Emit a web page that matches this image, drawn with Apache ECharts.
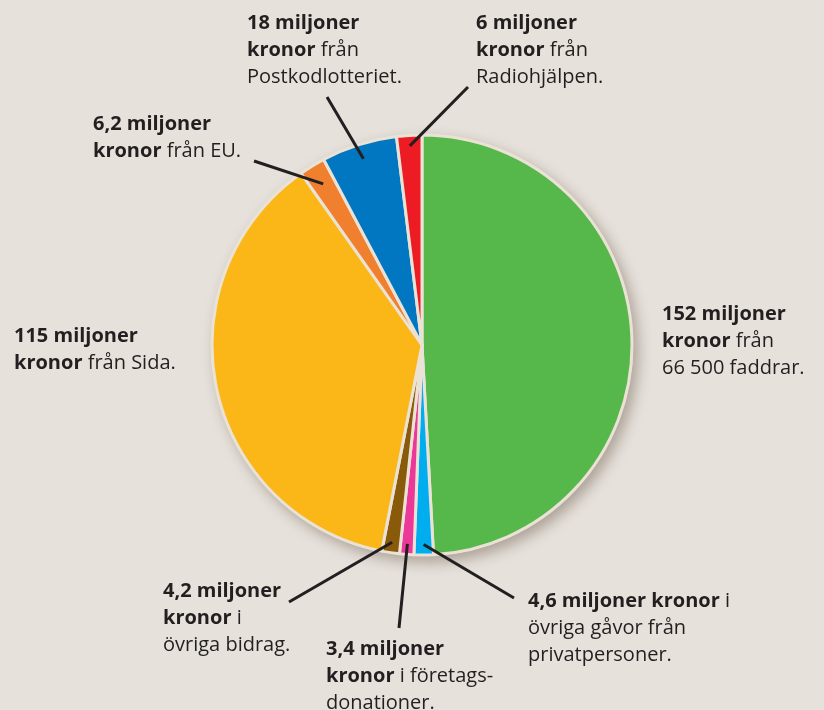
<!DOCTYPE html>
<html>
<head>
<meta charset="utf-8">
<script src="https://cdn.jsdelivr.net/npm/echarts@6/dist/echarts.min.js"></script>
<style>
  html, body { margin: 0; padding: 0; background: #e6e1db; }
  #chart { width: 824px; height: 710px; }
</style>
</head>
<body>
<div id="chart"></div>
<script>
// ---- data ----
const categories = ['Faddrar', 'Övriga gåvor från privatpersoner', 'Företagsdonationer', 'Övriga bidrag', 'Sida', 'EU', 'Postkodlotteriet', 'Radiohjälpen'];
const values = [152, 4.6, 3.4, 4.2, 115, 6.2, 18, 6];
const labelTexts = [
  '152 miljoner\nkronor från\n66 500 faddrar.',
  '4,6 miljoner kronor i\növriga gåvor från\nprivatpersoner.',
  '3,4 miljoner\nkronor i företags-\ndonationer.',
  '4,2 miljoner\nkronor i\növriga bidrag.',
  '115 miljoner\nkronor från Sida.',
  '6,2 miljoner\nkronor från EU.',
  '18 miljoner\nkronor från\nPostkodlotteriet.',
  '6 miljoner\nkronor från\nRadiohjälpen.'
];
const colors = ['#56b84a', '#00aeef', '#ec3898', '#8a5a0b', '#fbb718', '#f07f2e', '#0077c0', '#ed1c24'];

// ---- layout (label placement, not data) ----
const CENTER = [422, 345];
const RADIUS = 210;
const START_ANGLE = 90;
const labelPlace = [
  { x: 662, y: 301, line: false },
  { x: 528, y: 588, line: true, ex: 514, ey: 598, k: 0.95 },
  { x: 326, y: 636, line: true, ex: 399, ey: 628, k: 0.95 },
  { x: 163, y: 578, line: true, ex: 289, ey: 602, k: 0.95 },
  { x: 14,  y: 323, line: false },
  { x: 93,  y: 111, line: true, ex: 254, ey: 161, k: 0.9 },
  { x: 247, y: 10,  line: true, ex: 327, ey: 97,  k: 0.93 },
  { x: 476, y: 10,  line: true, ex: 468, ey: 87,  k: 0.95 }
];

const total = values.reduce((a, b) => a + b, 0);
function midAnglePoint(i, k) {
  let before = 0;
  for (let j = 0; j < i; j++) before += values[j];
  const frac = (before + values[i] / 2) / total;
  const a = frac * 2 * Math.PI; // clockwise from top
  return [CENTER[0] + Math.sin(a) * RADIUS * k, CENTER[1] - Math.cos(a) * RADIUS * k];
}

function richLabel(text) {
  const idx = text.indexOf('kronor') + 'kronor'.length;
  const bold = text.slice(0, idx);
  const rest = text.slice(idx);
  const parts = [];
  bold.split('\n').forEach((l, i, arr) => {
    parts.push('{b|' + l + '}' + (i < arr.length - 1 ? '\n' : ''));
  });
  rest.split('\n').forEach((l, i) => {
    parts.push((i > 0 ? '\n' : '') + (l ? '{n|' + l + '}' : ''));
  });
  return parts.join('');
}

const FONT = '"Open Sans", "Noto Sans", sans-serif';
const TEXT = '#231f20';
const BORDER = '#ebe2d6';

const chart = echarts.init(document.getElementById('chart'), null, { renderer: 'canvas' });

const mainData = values.map((v, i) => ({
  name: categories[i],
  value: v,
  itemStyle: { color: colors[i] }
}));

const leaderLines = [];
labelPlace.forEach((lp, i) => {
  if (!lp.line) return;
  leaderLines.push({
    type: 'polyline',
    z: 100,
    silent: true,
    shape: { points: [midAnglePoint(i, lp.k), [lp.ex, lp.ey]] },
    style: { stroke: TEXT, lineWidth: 3, fill: null }
  });
});

chart.setOption({
  backgroundColor: '#e6e1db',
  animation: false,
  graphic: { elements: leaderLines },
  series: [
    {
      type: 'pie',
      silent: true,
      center: CENTER,
      radius: RADIUS + 1,
      startAngle: START_ANGLE,
      z: 1,
      label: { show: false },
      labelLine: { show: false },
      itemStyle: {
        color: BORDER,
        borderWidth: 0,
        shadowBlur: 14,
        shadowOffsetX: 5,
        shadowOffsetY: 6,
        shadowColor: 'rgba(60,40,20,0.35)'
      },
      data: values.map((v, i) => ({ name: categories[i], value: v }))
    },
    {
      type: 'pie',
      center: CENTER,
      radius: RADIUS,
      startAngle: START_ANGLE,
      z: 2,
      avoidLabelOverlap: false,
      itemStyle: { borderColor: BORDER, borderWidth: 3 },
      label: {
        show: true,
        position: 'outside',
        formatter: (p) => richLabel(labelTexts[p.dataIndex]),
        color: TEXT,
        rich: {
          b: { fontFamily: FONT, fontSize: 20, fontWeight: 'bold', color: TEXT, lineHeight: 27 },
          n: { fontFamily: FONT, fontSize: 20, fontWeight: 'normal', color: TEXT, lineHeight: 27 }
        }
      },
      labelLine: { show: false },
      labelLayout: function (params) {
        const lp = labelPlace[params.dataIndex];
        return { x: lp.x, y: lp.y, align: 'left', verticalAlign: 'top' };
      },
      emphasis: { disabled: true },
      data: mainData
    }
  ]
});
</script>
</body>
</html>
